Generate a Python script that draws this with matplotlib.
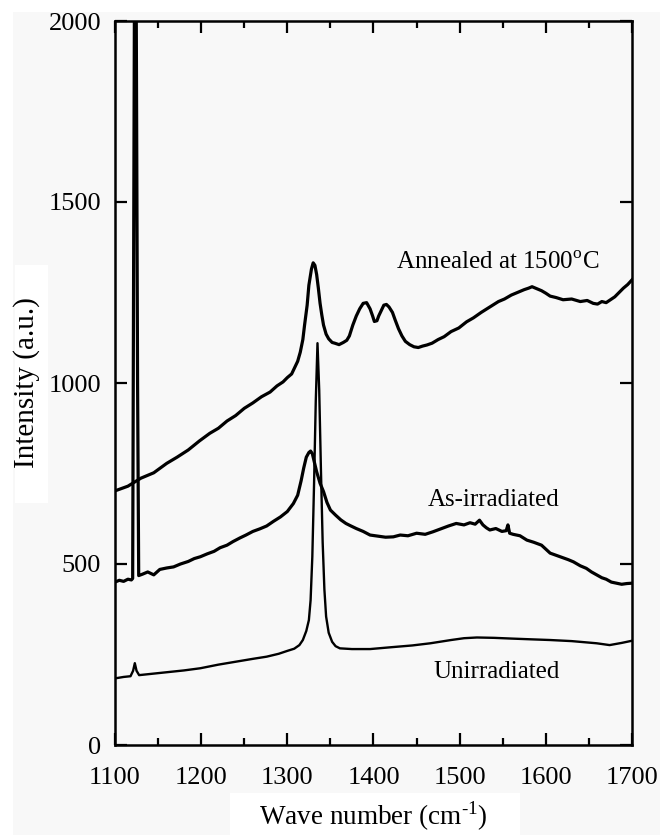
import matplotlib
matplotlib.use("Agg")
import matplotlib.pyplot as plt
from matplotlib.patches import Rectangle
from matplotlib.ticker import MultipleLocator

plt.rcParams['font.family'] = ['Liberation Serif', 'DejaVu Serif']
plt.rcParams['mathtext.fontset'] = 'custom'
plt.rcParams['mathtext.rm'] = 'Liberation Serif'

# Annealed at 1500 C
ann_x = [1100, 1115, 1130, 1145, 1160, 1172, 1185, 1198, 1210, 1220, 1230, 1240, 1250,
         1260, 1270, 1280, 1288, 1295, 1300, 1305, 1308, 1312, 1315, 1318, 1320, 1323,
         1325, 1328, 1330, 1332, 1334, 1336, 1338, 1340, 1342, 1345, 1348, 1352, 1355,
         1360, 1365, 1369, 1372, 1376, 1380, 1384, 1388, 1392, 1396, 1399, 1401, 1404,
         1406, 1409, 1412, 1415, 1418, 1422, 1425, 1429, 1433, 1437, 1442, 1447, 1452,
         1457, 1462, 1468, 1475, 1482, 1490, 1499, 1508, 1516, 1525, 1535, 1545, 1552,
         1560, 1567, 1575, 1580, 1584, 1590, 1595, 1600, 1605, 1612, 1620, 1630, 1640,
         1648, 1655, 1660, 1665, 1670, 1675, 1680, 1685, 1690, 1695, 1700]
ann_y = [702, 715, 737, 752, 778, 795, 815, 840, 861, 875, 895, 910, 930,
         945, 962, 975, 992, 1003, 1015, 1025, 1040, 1060, 1085, 1120, 1160, 1215,
         1270, 1315, 1332, 1325, 1300, 1262, 1220, 1188, 1160, 1135, 1122, 1112, 1110,
         1106, 1112, 1118, 1130, 1160, 1185, 1205, 1220, 1222, 1205, 1185, 1170, 1172,
         1185, 1200, 1215, 1217, 1210, 1195, 1175, 1150, 1130, 1115, 1106, 1100, 1098,
         1102, 1105, 1110, 1120, 1128, 1142, 1152, 1169, 1180, 1195, 1210, 1225, 1232,
         1243, 1250, 1258, 1262, 1266, 1260, 1255, 1248, 1240, 1236, 1230, 1232, 1225,
         1228, 1220, 1218, 1225, 1222, 1230, 1238, 1250, 1262, 1272, 1285]

# As-irradiated
asi_x = [1100, 1105, 1110, 1115, 1119, 1120.5, 1123.5, 1126.2, 1127.5, 1132, 1138, 1145,
         1152, 1160, 1168, 1176, 1185, 1192, 1199, 1207, 1215, 1222, 1230, 1237, 1245,
         1252, 1260, 1268, 1276, 1284, 1292, 1300, 1307, 1312, 1316, 1319, 1322, 1325,
         1327, 1329, 1331, 1334, 1338, 1342, 1346, 1350, 1356, 1362, 1368, 1373, 1380,
         1388, 1396, 1405, 1414, 1423, 1431, 1440, 1450, 1460, 1469, 1478, 1487, 1496,
         1505, 1512, 1518, 1523, 1527, 1531, 1535, 1542, 1549, 1554, 1556, 1558, 1562,
         1570, 1578, 1586, 1595, 1605, 1612, 1619, 1626, 1632, 1640, 1647, 1653, 1659,
         1665, 1670, 1676, 1682, 1688, 1694, 1700]
asi_y = [450, 455, 452, 458, 456, 460, 2800, 1000, 468, 472, 478, 470,
         485, 489, 492, 500, 507, 515, 520, 528, 535, 545, 552, 562, 572,
         580, 590, 597, 605, 618, 630, 645, 667, 690, 730, 765, 795, 808,
         812, 805, 785, 755, 723, 700, 670, 649, 635, 622, 612, 606, 598,
         590, 580, 577, 574, 575, 580, 578, 585, 582, 589, 597, 605, 612,
         608, 614, 610, 621, 608, 600, 594, 598, 590, 592, 608, 585, 582,
         578, 566, 560, 552, 530, 524, 518, 512, 506, 495, 488, 478, 470,
         462, 458, 450, 447, 444, 446, 447]

# Unirradiated
unr_x = [1100, 1110, 1118, 1121, 1123, 1125, 1128, 1140, 1160, 1180, 1199, 1220, 1240,
         1260, 1276, 1290, 1300, 1308, 1314, 1318, 1322, 1325, 1327, 1329, 1331, 1333,
         1335, 1337, 1339, 1341, 1343, 1345, 1348, 1352, 1356, 1361, 1375, 1396, 1420,
         1445, 1466, 1490, 1505, 1520, 1540, 1560, 1582, 1605, 1630, 1659, 1674, 1688, 1700]
unr_y = [184, 188, 190, 205, 226, 205, 193, 196, 201, 206, 212, 222, 230,
         238, 244, 252, 260, 266, 276, 290, 315, 345, 400, 520, 720, 950,
         1110, 980, 760, 560, 430, 355, 310, 285, 273, 267, 265, 265, 270,
         275, 281, 290, 295, 297, 296, 294, 292, 290, 287, 281, 276, 282, 288]

labels = ['Annealed at 1500$^{\\mathrm{o}}$C', 'As-irradiated', 'Unirradiated']
label_x = [1544, 1539, 1543]
label_y = [1331, 677, 202]

fig = plt.figure(figsize=(6.6, 8.35), dpi=100)
fig.patch.set_facecolor('white')
# scanned-page grey background and pasted label boxes
fig.patches.append(Rectangle((13 / 660, 0), 647 / 660, 823 / 835, transform=fig.transFigure,
                             facecolor='#f8f8f8', edgecolor='none', zorder=-10))
fig.patches.append(Rectangle((15 / 660, (835 - 503) / 835), 33 / 660, 238 / 835,
                             transform=fig.transFigure, facecolor='white', edgecolor='none', zorder=-9))
fig.patches.append(Rectangle((230 / 660, 0), 290 / 660, 42 / 835,
                             transform=fig.transFigure, facecolor='white', edgecolor='none', zorder=-9))

ax = fig.add_axes([115 / 660, 90 / 835, 517 / 660, 724 / 835])
ax.set_facecolor('none')

ax.plot(ann_x, ann_y, color='black', lw=2.3)
ax.plot(asi_x, asi_y, color='black', lw=2.3)
ax.plot(unr_x, unr_y, color='black', lw=1.7)

for t, x, y in zip(labels, label_x, label_y):
    ax.text(x, y, t, fontsize=18, ha='center', va='center')

ax.set_xlim(1100, 1700)
ax.set_ylim(0, 2000)
ax.xaxis.set_major_locator(MultipleLocator(100))
ax.xaxis.set_minor_locator(MultipleLocator(50))
ax.yaxis.set_major_locator(MultipleLocator(500))

ax.tick_params(which='both', direction='in', top=True, right=True, width=1.6, labelsize=19)
ax.tick_params(which='major', length=8.5)
ax.tick_params(which='minor', length=5)
ax.tick_params(axis='x', pad=16)
ax.tick_params(axis='y', pad=10)
for s in ax.spines.values():
    s.set_linewidth(1.8)

ax.set_xlabel('Wave number (cm$^{\\text{-1}}$)', fontsize=19.5, labelpad=7)
ax.set_ylabel('Intensity (a.u.)', fontsize=21, labelpad=6)

fig.savefig('out.png', dpi=100)
